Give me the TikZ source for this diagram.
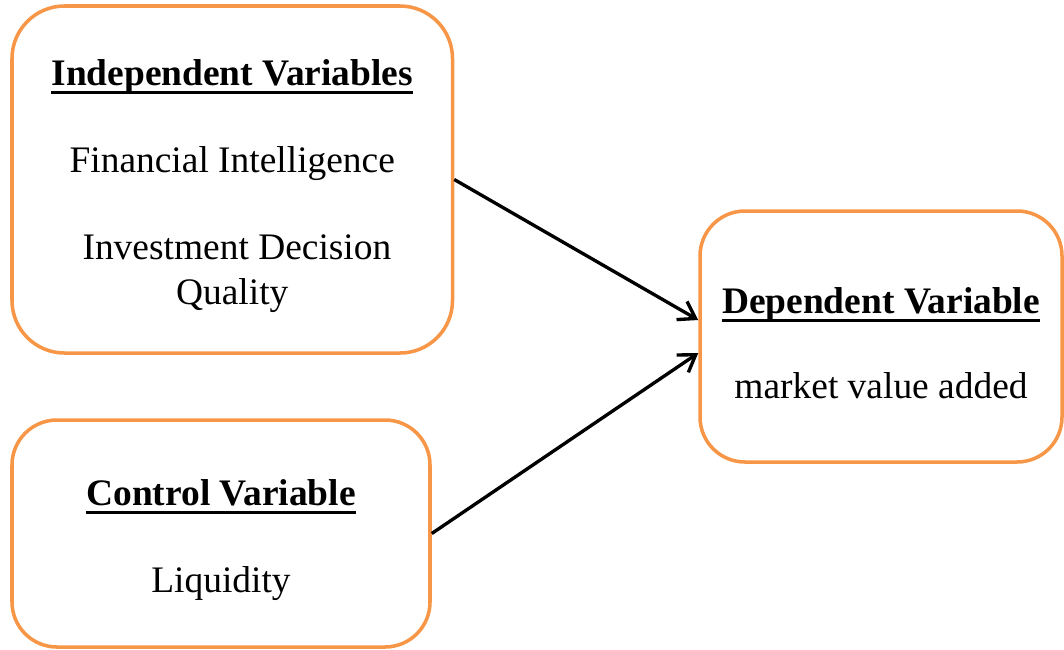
\documentclass[tikz,border=0pt]{standalone}
\usepackage{fontspec}
\setmainfont{Liberation Serif}
\usetikzlibrary{arrows.meta,positioning}
\definecolor{boxorange}{HTML}{F79646}
% bold heading with a rule a little under the baseline
% (the strut pushes the text block a bit lower in its box)
\newcommand{\varhead}[1]{\setbox0\hbox{\bfseries #1}%
  \rule{0pt}{0.78cm}\rlap{\rule[-5pt]{\wd0}{1.7pt}}\box0}
\tikzset{
  varbox/.style={rectangle,rounded corners=1.05cm,draw=boxorange,line width=2pt,
    fill=white,align=center,inner sep=0pt,
    font=\fontsize{21.3pt}{25.6pt}\selectfont},
  arrow/.style={-{Straight Barb[length=3.2mm,width=4.2mm]},line width=1.9pt,draw=black},
}

\begin{document}
\begin{tikzpicture}
  \useasboundingbox (0,0) rectangle (21.28,-12.98);
  \node[varbox,minimum width=8.81cm,minimum height=6.94cm] (indep) at (4.645,-3.59)
    {\varhead{Independent Variables}\\[0.84cm]
     Financial Intelligence\\[0.84cm]
     \ Investment Decision\\Quality};
  \node[varbox,minimum width=8.36cm,minimum height=4.54cm,rounded corners=0.9cm] (ctrl) at (4.42,-10.67)
    {\varhead{Control Variable}\\[0.84cm]
     Liquidity};
  \node[varbox,minimum width=7.24cm,minimum height=5.02cm,rounded corners=0.9cm] (dep) at (17.62,-6.73)
    {\varhead{Dependent Variable}\\[0.80cm]
     market value added};
  \draw[arrow] (indep.east) -- ([yshift=0.33cm]dep.west);
  \draw[arrow] (ctrl.east)  -- ([yshift=-0.33cm]dep.west);
\end{tikzpicture}
\end{document}
